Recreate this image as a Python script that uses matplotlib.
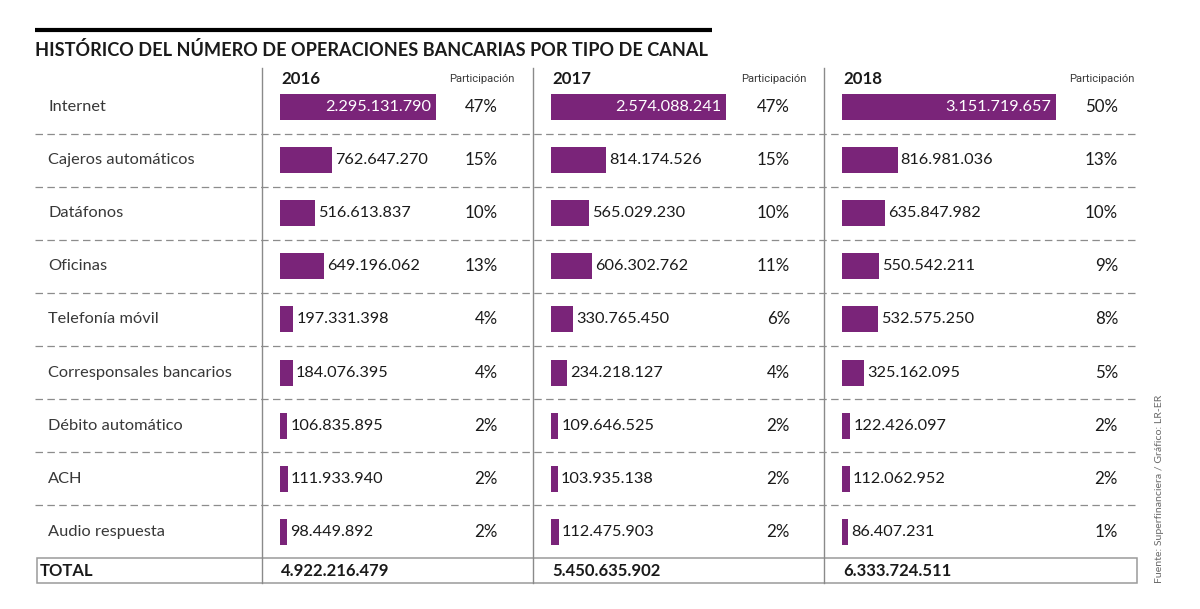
import matplotlib
matplotlib.use("Agg")
import matplotlib.pyplot as plt
from matplotlib.patches import Rectangle

# ---------------- data ----------------
title = "HISTÓRICO DEL NÚMERO DE OPERACIONES BANCARIAS POR TIPO DE CANAL"
source = "Fuente: Superfinanciera / Gráfico: LR-ER"
share_header = "Participación"
total_label = "TOTAL"
categories = ["Internet", "Cajeros automáticos", "Datáfonos", "Oficinas",
              "Telefonía móvil", "Corresponsales bancarios", "Débito automático",
              "ACH", "Audio respuesta"]
years = ["2016", "2017", "2018"]
ops_2016 = [2295131790, 762647270, 516613837, 649196062, 197331398,
            184076395, 106835895, 111933940, 98449892]
ops_2017 = [2574088241, 814174526, 565029230, 606302762, 330765450,
            234218127, 109646525, 103935138, 112475903]
ops_2018 = [3151719657, 816981036, 635847982, 550542211, 532575250,
            325162095, 122426097, 112062952, 86407231]
share_2016 = [47, 15, 10, 13, 4, 4, 2, 2, 2]
share_2017 = [47, 15, 10, 11, 6, 4, 2, 2, 2]
share_2018 = [50, 13, 10, 9, 8, 5, 2, 2, 1]

ops = [ops_2016, ops_2017, ops_2018]
shares = [share_2016, share_2017, share_2018]

# ---------------- style / layout ----------------
PURPLE = "#7a2479"
INK = "#1a1a1a"
GRID = "#8c8c8c"
FONT = ["Lato", "DejaVu Sans"]
NARROW = ["Roboto", "Lato", "DejaVu Sans"]

W, H = 1200, 609
ROW0, ROWH, N = 107.0, 53.1, len(categories)
panel_sep = [262, 533, 824]
bar_x0 = [280, 551, 842]
pct_right = [498, 790, 1118]
part_right = [515, 806, 1135]
PX_PER_OP = 0.0680e-6
BAR_AX_W = 260
BAR_H_PX = 26

def fmt(v):
    return f"{v:,}".replace(",", ".")

fig = plt.figure(figsize=(12, 6.09), dpi=100)
bg = fig.add_axes([0, 0, 1, 1])
bg.set_xlim(0, W)
bg.set_ylim(H, 0)
bg.axis("off")

groups = {k: [] for k in ["title", "label", "num", "part", "pct", "year", "tot", "src"]}

def T(group, *a, **k):
    k.setdefault("family", FONT)
    k.setdefault("color", INK)
    t = bg.text(*a, **k)
    groups[group].append(t)
    return t

# top rule and title
bg.plot([35, 712], [30, 30], color="black", lw=3.0, solid_capstyle="butt")
T("title", 35, 50, title, fontsize=14, fontweight="bold", va="center", ha="left")

# vertical separators
for x in panel_sep:
    bg.plot([x, x], [68, 583], color="#8a8a8a", lw=1.0)

# dashed row separators
for i in range(N - 1):
    y = ROW0 + ROWH * (i + 0.5)
    bg.plot([35, 1137], [y, y], color=GRID, lw=0.9, ls=(0, (6, 3.5)))

# total box
bg.add_patch(Rectangle((37, 558), 1137 - 37, 25, fill=False, ec="#9a9a9a", lw=1.1))

# headers
for j, yr in enumerate(years):
    T("year", bar_x0[j] + 1, 79, yr, fontsize=12, fontweight="bold", va="center", ha="left")
    T("part", part_right[j], 79, share_header, fontsize=9, va="center", ha="right",
      color="#3a3a3a", family=NARROW)

# row labels
for i, c in enumerate(categories):
    T("label", 48, ROW0 + ROWH * i, c, fontsize=11, va="center", ha="left",
      color="#383838")

# percentages
for j in range(3):
    for i, s in enumerate(shares[j]):
        T("pct", pct_right[j], ROW0 + ROWH * i, f"{s}%", fontsize=11, va="center", ha="right")

# totals
T("tot", 40, 571, total_label, fontsize=11, fontweight="bold", va="center", ha="left")
for j in range(3):
    T("tot", bar_x0[j] + 1, 571, fmt(sum(ops[j])), fontsize=11, fontweight="bold",
      va="center", ha="left")

# source (rotated)
T("src", 1160, 583, source, fontsize=8, rotation=90, va="center", ha="center",
  color="#6a6a6a", rotation_mode="anchor")

# bar panels
num_texts = []
for j in range(3):
    top = ROW0 - ROWH / 2
    ax = fig.add_axes([bar_x0[j] / W, 1 - (top + N * ROWH) / H, BAR_AX_W / W, N * ROWH / H])
    ax.set_xlim(0, BAR_AX_W / PX_PER_OP)
    ax.set_ylim(N - 0.5, -0.5)
    ax.axis("off")
    ax.patch.set_alpha(0)
    ax.barh(range(N), ops[j], height=BAR_H_PX / ROWH, color=PURPLE, lw=0)
    for i, v in enumerate(ops[j]):
        inside = v * PX_PER_OP > 100
        t = ax.annotate(fmt(v), (v, i), xytext=(-5 if inside else 3, 0),
                        textcoords="offset pixels", ha="right" if inside else "left",
                        va="center", color="white" if inside else INK,
                        family=FONT, fontsize=11)
        num_texts.append(t)
groups["num"] = num_texts

# ---- fit font sizes to the measured widths in the reference ----
fig.canvas.draw()
r = fig.canvas.get_renderer()

def fit(group, text, target, dim="width"):
    ref = [t for t in groups[group] if t.get_text() == text][0]
    bb = ref.get_window_extent(r)
    w = bb.width if dim == "width" else bb.height
    f = target / w
    for t in groups[group]:
        t.set_fontsize(t.get_fontsize() * f)

fit("title", title, 675)
fit("label", "Telefonía móvil", 110)
fit("num", "762.647.270", 93)
fit("part", share_header, 66)
fit("pct", "47%", 33)
fit("year", "2016", 39)
fit("tot", "4.922.216.479", 108)
fit("src", source, 188, dim="height")
src = groups["src"][0]
src.set_ha("left")
src.set_va("center")

fig.savefig("out.png", dpi=100)
